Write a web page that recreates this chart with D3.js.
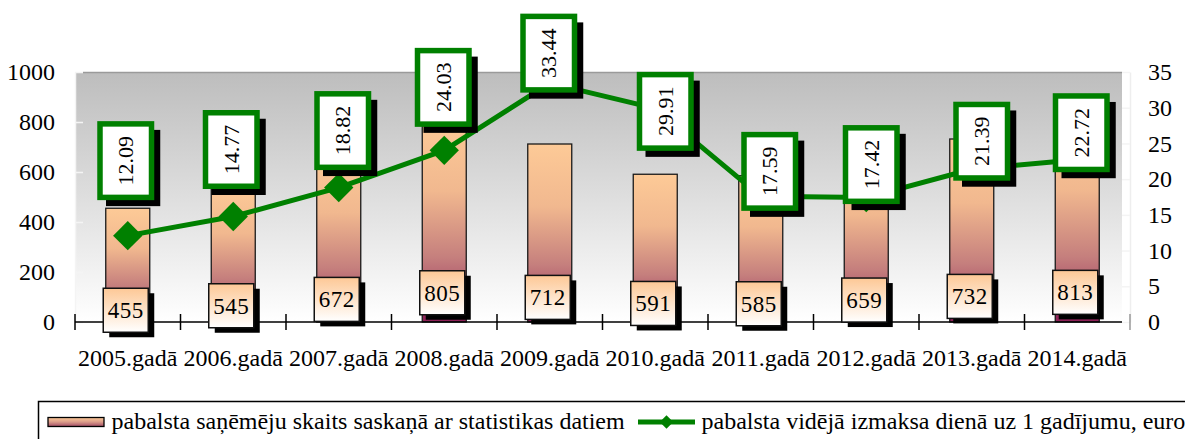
<!DOCTYPE html>
<html><head><meta charset="utf-8">
<script src="https://cdn.jsdelivr.net/npm/d3@7"></script>
<style>html,body{margin:0;padding:0;background:#fff;}svg{display:block;}
svg text{font-family:"Liberation Serif","Times New Roman",Tinos,"DejaVu Serif",serif;}</style>
</head><body>
<svg id="chart" width="1185" height="439"></svg>
<script>
// ---- data ----
const categories = ["2005.gadā","2006.gadā","2007.gadā","2008.gadā","2009.gadā","2010.gadā","2011.gadā","2012.gadā","2013.gadā","2014.gadā"];
const recipients = [455,545,672,805,712,591,585,659,732,813];
const avgPay = [12.09,14.77,18.82,24.03,33.44,29.91,17.59,17.42,21.39,22.72];
const leftTicks = [0,200,400,600,800,1000];
const rightTicks = [0,5,10,15,20,25,30,35];
const legendLabels = ["pabalsta saņēmēju skaits saskaņā ar statistikas datiem","pabalsta vidējā izmaksa dienā uz 1 gadījumu, euro"];

// ---- layout (manual label placement, px offsets from point) ----
const lineLabelShift = [[-2,-75],[-2,-67],[4,-57],[-1,-63],[-1,-30],[10,3],[9,-25],[5,-33],[10,-28],[4,-27]];

const svg = d3.select("#chart");
const defs = svg.append("defs");

const plot = {left:75, right:1130, top:72, bottom:322};
const x = d3.scaleBand().domain(categories).range([plot.left, plot.right]);
const yL = d3.scaleLinear().domain([0,1000]).range([plot.bottom, plot.top]);
const yR = d3.scaleLinear().domain([0,35]).range([plot.bottom, plot.top]);
const cx = d => x(d) + x.bandwidth()/2;
// bar value label vertical placement (follows value)
const labelY = d3.scaleLinear().domain([0,1000]).range([plot.bottom+11, plot.bottom-39]);

// gradients
const bg = defs.append("linearGradient").attr("id","bg").attr("x1",0).attr("y1",0).attr("x2",0).attr("y2",1);
bg.append("stop").attr("offset",0).attr("stop-color","#bdbdbd");
bg.append("stop").attr("offset",1).attr("stop-color","#ffffff");
const bar = defs.append("linearGradient").attr("id","bar").attr("x1",0).attr("y1",0).attr("x2",0).attr("y2",1);
[[0,"#fdca97"],[0.35,"#f1b88f"],[0.68,"#c57f7d"],[0.85,"#a9506a"],[1,"#8c1f56"]].forEach(s=>bar.append("stop").attr("offset",s[0]).attr("stop-color",s[1]));
const lab = defs.append("linearGradient").attr("id","lab").attr("x1",0).attr("y1",0).attr("x2",0).attr("y2",1);
lab.append("stop").attr("offset",0).attr("stop-color","#fdc896");
lab.append("stop").attr("offset",1).attr("stop-color","#ffffff");

// plot background
svg.append("rect").attr("x",plot.left).attr("y",plot.top).attr("width",1122-plot.left).attr("height",plot.bottom-plot.top).attr("fill","url(#bg)");
svg.append("line").attr("x1",83).attr("x2",1122).attr("y1",plot.top+0.5).attr("y2",plot.top+0.5).attr("stroke","#9a9a9a").attr("stroke-width",1.5);

// left axis
const gL = svg.append("g").attr("transform",`translate(${plot.left},0)`)
  .call(d3.axisLeft(yL).tickValues(leftTicks).tickFormat(d3.format("d")).tickSizeInner(-8).tickSizeOuter(0).tickPadding(20));
gL.attr("font-family",null).attr("font-size",null);
gL.select(".domain").attr("stroke","#f4f4f4").attr("stroke-width",1.5);
gL.selectAll(".tick line").attr("stroke","#f4f4f4").attr("stroke-width",1.5);
gL.selectAll("text").attr("font-size",24).attr("fill","#000");

// right axis
const gR = svg.append("g").attr("transform",`translate(${plot.right},0)`)
  .call(d3.axisRight(yR).tickValues(rightTicks).tickFormat(d3.format("d")).tickSizeInner(-8).tickSizeOuter(0).tickPadding(18));
gR.attr("font-family",null).attr("font-size",null);
gR.select(".domain").attr("stroke","#eeeeee").attr("stroke-width",1.5);
gR.selectAll(".tick line").attr("stroke","#f4f4f4").attr("stroke-width",1.5);
gR.selectAll("text").attr("font-size",24).attr("fill","#000");

// bars
const bw = 44;
svg.append("g").selectAll("rect").data(recipients).join("rect")
  .attr("x",(d,i)=>cx(categories[i])-bw/2)
  .attr("y",d=>yL(d))
  .attr("width",bw)
  .attr("height",d=>yL(0)-yL(d))
  .attr("fill","url(#bar)").attr("stroke","#1a1a1a").attr("stroke-width",1.3);

// x axis
const gX = svg.append("g").attr("transform",`translate(0,${plot.bottom})`)
  .call(d3.axisBottom(x).tickSize(0).tickPadding(27));
gX.attr("font-family",null).attr("font-size",null);
gX.select(".domain").remove();
svg.append("line").attr("x1",plot.left).attr("x2",1122).attr("y1",plot.bottom).attr("y2",plot.bottom).attr("stroke","#000").attr("stroke-width",1.5);
const bounds = categories.map(c=>x(c)).concat([plot.right]);
svg.append("g").selectAll("line").data(bounds).join("line")
  .attr("x1",d=>d).attr("x2",d=>d).attr("y1",plot.bottom-8).attr("y2",plot.bottom+8)
  .attr("stroke",(d,i)=>i===bounds.length-1?"#999":"#000").attr("stroke-width",1.5);
gX.selectAll("text").attr("font-size",24).attr("fill","#000");

// line
const line = d3.line().x((d,i)=>cx(categories[i])).y(d=>yR(d));
svg.append("path").datum(avgPay).attr("d",line).attr("fill","none").attr("stroke","#008000").attr("stroke-width",5).attr("stroke-linejoin","round");
const diamond = d3.symbol().type(d3.symbolSquare).size(430);
svg.append("g").selectAll("path").data(avgPay).join("path")
  .attr("d",diamond)
  .attr("transform",(d,i)=>`translate(${cx(categories[i])},${yR(d)}) rotate(45)`)
  .attr("fill","#008000");

// bar value labels
const bl = svg.append("g").selectAll("g").data(recipients).join("g")
  .attr("transform",(d,i)=>`translate(${cx(categories[i])-2},${labelY(d)})`);
bl.append("rect").attr("x",-22.5+6).attr("y",-22+5).attr("width",45).attr("height",44).attr("fill","#000");
bl.append("rect").attr("x",-22.5).attr("y",-22).attr("width",45).attr("height",44).attr("fill","url(#lab)").attr("stroke","#111").attr("stroke-width",1.5);
bl.append("text").attr("text-anchor","middle").attr("dy","0.34em").attr("font-size",23).attr("letter-spacing",0.5).text(d=>d);

// line value labels
const ll = svg.append("g").selectAll("g").data(avgPay).join("g")
  .attr("transform",(d,i)=>`translate(${cx(categories[i])+lineLabelShift[i][0]},${yR(d)+lineLabelShift[i][1]})`);
ll.append("rect").attr("x",-25.75+6).attr("y",-36.75+6).attr("width",51.5+2.75).attr("height",73.5+2.75).attr("fill","#000");
ll.append("rect").attr("x",-25.75).attr("y",-36.75).attr("width",51.5).attr("height",73.5).attr("fill","#fff").attr("stroke","#008000").attr("stroke-width",5.5);
ll.append("text").attr("transform","rotate(-90)").attr("text-anchor","middle").attr("dy","0.34em")
  .attr("font-size",22).text(d=>d.toFixed(2));

// legend
const lg = svg.append("g");
lg.append("rect").attr("x",38.5).attr("y",401.5).attr("width",1200).attr("height",60).attr("fill","#fff").attr("stroke","#000").attr("stroke-width",1.5);
const legG = defs.append("linearGradient").attr("id","legbar").attr("x1",0).attr("y1",0).attr("x2",0).attr("y2",1);
[[0,"#fdca97"],[0.5,"#d99a88"],[1,"#a14a66"]].forEach(s=>legG.append("stop").attr("offset",s[0]).attr("stop-color",s[1]));
lg.append("rect").attr("x",48).attr("y",417.5).attr("width",56).attr("height",9).attr("fill","url(#legbar)").attr("stroke","#000").attr("stroke-width",1.3);
lg.append("text").attr("x",111.5).attr("y",429).attr("font-size",24).text(legendLabels[0]);
lg.append("line").attr("x1",638).attr("x2",695).attr("y1",422).attr("y2",422).attr("stroke","#008000").attr("stroke-width",5);
lg.append("path").attr("d",d3.symbol().type(d3.symbolSquare).size(90)).attr("transform","translate(666.5,422) rotate(45)").attr("fill","#008000");
lg.append("text").attr("x",701.5).attr("y",429).attr("font-size",24).text(legendLabels[1]);
</script>
</body></html>
